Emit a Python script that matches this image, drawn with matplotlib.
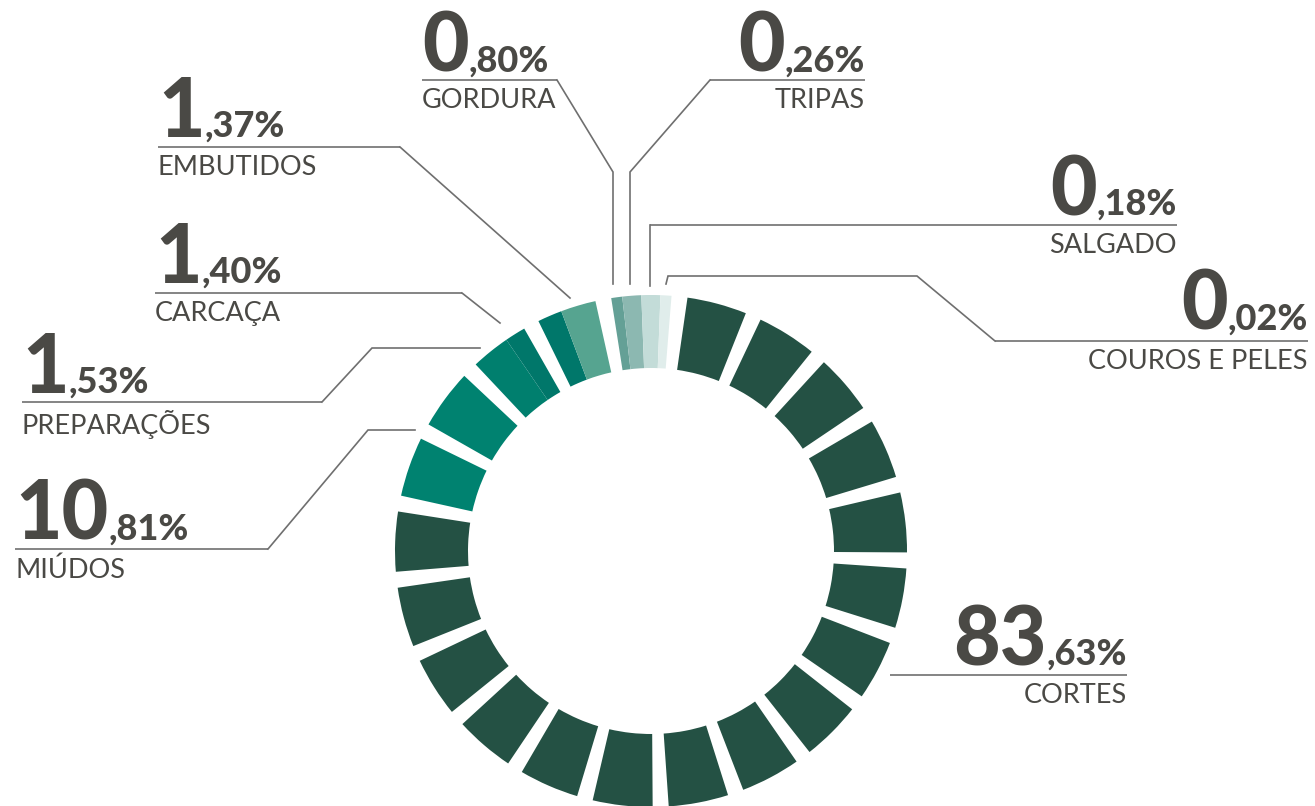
import numpy as np
import matplotlib
matplotlib.use("Agg")
import matplotlib.pyplot as plt
from matplotlib.patches import Wedge

# shares of the total (%), as printed on the chart
CATEGORIES = ["CORTES", "MIÚDOS", "PREPARAÇÕES", "CARCAÇA", "EMBUTIDOS",
              "GORDURA", "TRIPAS", "SALGADO", "COUROS E PELES"]
PERCENTS = [83.63, 10.81, 1.53, 1.40, 1.37, 0.80, 0.26, 0.18, 0.02]

# the ring is cut in 21 equal blocks; how many blocks each category covers,
# clockwise from the top
RING_ORDER = ["GORDURA", "TRIPAS", "SALGADO", "COUROS E PELES", "CORTES",
              "MIÚDOS", "PREPARAÇÕES", "CARCAÇA", "EMBUTIDOS"]
RING_BLOCKS = [0.25, 0.25, 0.25, 0.25, 16, 2, 0.62, 0.81, 0.57]

COLORS = {
    "CORTES": "#245144",
    "MIÚDOS": "#008270",
    "PREPARAÇÕES": "#007f6e",
    "CARCAÇA": "#00776a",
    "EMBUTIDOS": "#56a490",
    "GORDURA": "#64a096",
    "TRIPAS": "#8cb8b1",
    "SALGADO": "#c3dcd8",
    "COUROS E PELES": "#e0edeb",
}

W, H = 1315, 806
TEXT = "#4a4945"
LINE = "#6f6f6f"

NBLOCKS = 21
CX, CY = 651, 551
R_OUT, R_IN = 256, 183
START = 6.4 - 360 / NBLOCKS   # clock angle of the first block edge
GAP = 3.6                     # degrees of white between blocks

# label layout: align, x, baseline, underline (x0, x1, y), leader path
LABELS = {
    "GORDURA": ("left", 422, 72, (422, 557, 80), [(557, 80), (613, 172), (613, 284)]),
    "TRIPAS": ("right", 865, 72, (710, 865, 80), [(710, 80), (630, 172), (630, 284)]),
    "EMBUTIDOS": ("left", 158, 137, (158, 400, 147), [(400, 147), (570, 298)]),
    "SALGADO": ("right", 1177, 215, (650, 1177, 225), [(650, 225), (650, 286)]),
    "CARCAÇA": ("left", 155, 283, (155, 462, 293), [(462, 293), (500, 323)]),
    "COUROS E PELES": ("right", 1308, 330, (995, 1308, 341),
                       [(995, 341), (917, 276), (668, 276), (666, 284)]),
    "PREPARAÇÕES": ("left", 22, 393, (22, 322, 402), [(322, 402), (372, 348), (480, 348)]),
    "MIÚDOS": ("left", 15, 540, (15, 268, 549), [(268, 549), (368, 430), (415, 430)]),
    "CORTES": ("right", 1127, 665, (890, 1127, 675), []),
}

BIG_FONT = dict(family=["Lato", "DejaVu Sans"], weight="black", size=58, color=TEXT)
SMALL_FONT = dict(family=["Lato", "DejaVu Sans"], weight="black", size=26, color=TEXT)
NAME_FONT = dict(family=["Lato", "DejaVu Sans"], weight="normal", size=19.5, color=TEXT)


def clock_to_theta(phi):
    # clock angle (0 = top, clockwise) -> Wedge angle in the y-down data frame
    return phi - 90


def draw_ring(ax):
    pitch = 360 / NBLOCKS
    pos = 0.0
    for name, blocks in zip(RING_ORDER, RING_BLOCKS):
        s, e = pos, pos + blocks
        pos = e
        b = int(np.floor(s + 1e-9))
        while b < e - 1e-9:
            a0, a1 = max(s, b), min(e, b + 1)
            phi0 = START + a0 * pitch + (GAP / 2 if np.isclose(a0, b) else 0)
            phi1 = START + a1 * pitch - (GAP / 2 if np.isclose(a1, b + 1) else 0)
            ax.add_patch(Wedge((CX, CY), R_OUT, clock_to_theta(phi0), clock_to_theta(phi1),
                               width=R_OUT - R_IN, facecolor=COLORS[name],
                               edgecolor="none", antialiased=True))
            b += 1


def draw_value(ax, renderer, align, x, y, pct):
    whole, frac = "{:.2f}".format(pct).split(".")
    small = "," + frac + "%"
    if align == "left":
        t = ax.text(x, y, whole, ha="left", va="baseline", **BIG_FONT)
        bb = t.get_window_extent(renderer)
        ax.text(bb.x1, y, small, ha="left", va="baseline", **SMALL_FONT)
    else:
        t = ax.text(x, y, small, ha="right", va="baseline", **SMALL_FONT)
        bb = t.get_window_extent(renderer)
        ax.text(bb.x0, y, whole, ha="right", va="baseline", **BIG_FONT)


def main():
    fig = plt.figure(figsize=(W / 100, H / 100), dpi=100)
    ax = fig.add_axes([0, 0, 1, 1])
    ax.set_xlim(0, W)
    ax.set_ylim(H, 0)
    ax.axis("off")

    draw_ring(ax)

    renderer = fig.canvas.get_renderer()
    for name, pct in zip(CATEGORIES, PERCENTS):
        align, x, base, (ux0, ux1, uy), path = LABELS[name]
        draw_value(ax, renderer, align, x, base, pct)
        ax.plot([ux0, ux1], [uy, uy], color=LINE, lw=1.2, solid_capstyle="butt")
        if path:
            px, py = zip(*path)
            ax.plot(px, py, color=LINE, lw=1.2, solid_joinstyle="miter")
        ax.text(x, uy + 8, name, ha=align, va="top", **NAME_FONT)

    fig.savefig("out.png", dpi=100, facecolor="white")


if __name__ == "__main__":
    main()
